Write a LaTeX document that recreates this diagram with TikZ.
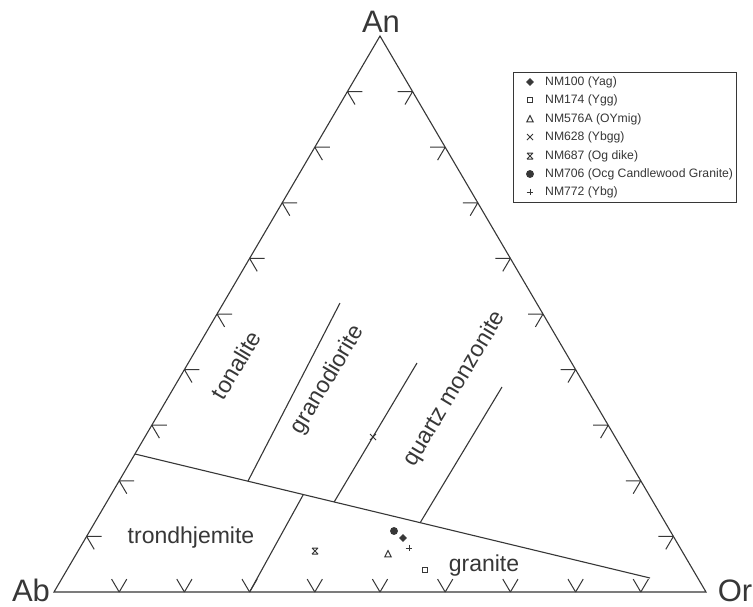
\documentclass[tikz,border=0pt]{standalone}
\usepackage{fontspec}
\setmainfont{Liberation Sans}
\usetikzlibrary{calc}
\definecolor{ink}{RGB}{55,55,55}
\tikzset{
  ln/.style={draw=ink, line width=1.1pt, line join=miter},
  tk/.style={draw=ink, line width=1pt},
  field/.style={text=ink, font=\fontsize{23}{26}\selectfont, inner sep=0pt},
  corner/.style={text=ink, font=\fontsize{31}{34}\selectfont, inner sep=0pt, anchor=base, text depth=0pt},
  legtext/.style={text=ink, font=\fontsize{12.2}{14}\selectfont, anchor=west, inner sep=0pt},
  mk/.style={draw=ink, fill=ink, line width=0.8pt},
  mko/.style={draw=ink, fill=white, line width=1pt},
  pics/mdiamond/.style={code={\path[mk] (0,-3.4) -- (3.4,0) -- (0,3.4) -- (-3.4,0) -- cycle;}},
  pics/msquare/.style={code={\path[mko] (-2.8,-2.8) rectangle (2.8,2.8);}},
  pics/mtri/.style={code={\path[mko] (0,-3.4) -- (3.2,2.8) -- (-3.2,2.8) -- cycle;}},
  pics/mcross/.style={code={\path[mko] (-3,-3) -- (3,3) (-3,3) -- (3,-3);}},
  pics/mbow/.style={code={\path[mko] (-3,-3) -- (3,3) (-3,3) -- (3,-3) (-3,-3) -- (3,-3) (-3,3) -- (3,3);}},
  pics/mcirc/.style={code={\path[mk] (0,0) circle[radius=3.5pt];}},
  pics/mplus/.style={code={\path[mko] (-3.4,0) -- (3.4,0) (0,-3.4) -- (0,3.4);}},
}
\begin{document}
\begin{tikzpicture}[x=1pt,y=-1pt]
\useasboundingbox (0,0) rectangle (753,606);
\fill[white] (0,0) rectangle (753,606);
% vertices
\coordinate (Ab) at (54,592);
\coordinate (Or) at (706,592);
\coordinate (An) at (380,36);
\draw[ln] (Ab) -- (Or) -- (An) -- cycle;
% ticks
\foreach \i in {1,...,9}{
  \pgfmathsetmacro\t{\i/10}
  \path ($(Ab)!\t!(Or)$) coordinate (pb)
        ($(Ab)!\t!(An)$) coordinate (pl)
        ($(Or)!\t!(An)$) coordinate (pr);
  \draw[tk] (pb) -- ++(-7.6,-12.9) (pb) -- ++(7.6,-12.9);
  \draw[tk] (pl) -- ++(15,0) (pl) -- ++(7.6,12.9);
  \draw[tk] (pr) -- ++(-15,0) (pr) -- ++(-7.6,12.9);
}
% field boundaries
\coordinate (d1) at (135,454);
\coordinate (d2) at (650,578);
\draw[ln] (d1) -- (d2);
\coordinate (g0) at ($(Ab)!0.3!(Or)$);
\coordinate (g1) at (intersection of g0--{303,495} and d1--d2);
\draw[ln] (g0) -- (g1);
\coordinate (a1) at (340,303);
\coordinate (a0) at (intersection of a1--{248,481} and d1--d2);
\draw[ln] (a0) -- (a1);
\coordinate (b1) at (417,363);
\coordinate (b0) at (intersection of b1--{380,425} and d1--d2);
\draw[ln] (b0) -- (b1);
\coordinate (c1) at (502,387);
\coordinate (c0) at (intersection of c1--{435,498} and d1--d2);
\draw[ln] (c0) -- (c1);
% corner labels
\node[corner] (lAn) at (381,32) {An};
\node[corner] (lAb) at (31,601) {Ab};
\node[corner] (lOr) at (735,601) {Or};
% field labels
\node[field, rotate=59] (ton) at (236,365) {tonalite};
\node[field, rotate=59] (gd) at (328,380) {granodiorite};
\node[field, rotate=59] (qm) at (455,389) {quartz monzonite};
\node[field] (tr) at (191,538) {trondhjemite};
\node[field] (gr) at (484,566) {granite};
% data points
\pic at (403,538) {mdiamond};
\pic at (425,570) {msquare};
\pic at (388,554) {mtri};
\pic at (373,437) {mcross};
\pic at (315,551) {mbow};
\pic at (394,531) {mcirc};
\pic at (409,548) {mplus};
% legend
\node[draw=ink, line width=0.9pt, minimum width=223pt, minimum height=130pt, anchor=north west, inner sep=0pt] (leg) at (513,72) {};
\pic at (530,82) {mdiamond};
\pic at (530,100) {msquare};
\pic at (530,119) {mtri};
\pic at (530,137) {mcross};
\pic at (530,156) {mbow};
\pic at (530,174) {mcirc};
\pic at (530,192) {mplus};
\node[legtext] (e1) at (545,82) {NM100 (Yag)};
\node[legtext] (e2) at (545,100) {NM174 (Ygg)};
\node[legtext] (e3) at (545,119) {NM576A (OYmig)};
\node[legtext] (e4) at (545,137) {NM628 (Ybgg)};
\node[legtext] (e5) at (545,156) {NM687 (Og dike)};
\node[legtext] (e6) at (545,174) {NM706 (Ocg Candlewood Granite)};
\node[legtext] (e7) at (545,192) {NM772 (Ybg)};
\end{tikzpicture}
\end{document}
